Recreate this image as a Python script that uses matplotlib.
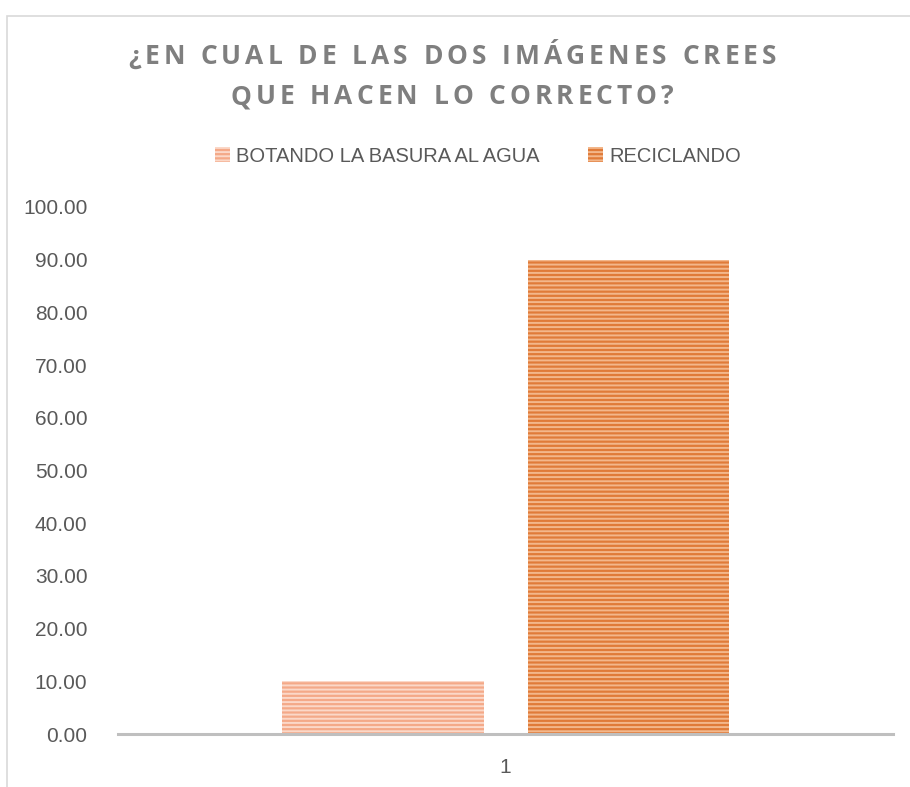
import matplotlib
matplotlib.use("Agg")
import matplotlib.pyplot as plt
from matplotlib.patches import Rectangle

# data
categories = ["1"]
series_names = ["BOTANDO LA BASURA AL AGUA", "RECICLANDO"]
series_values = [[10.0], [90.0]]
y_ticks = [0, 10, 20, 30, 40, 50, 60, 70, 80, 90, 100]
title_lines = ["¿EN CUAL DE LAS DOS IMÁGENES CREES", "QUE HACEN LO CORRECTO?"]

face_colors = ["#F4A988", "#E07B39"]
stripe_colors = ["#FBD8C8", "#F3B78B"]

plt.rcParams["font.family"] = ["Liberation Sans", "DejaVu Sans"]
plt.rcParams["hatch.linewidth"] = 1.4

fig = plt.figure(figsize=(9.1, 7.87), dpi=100)
ax = fig.add_axes([118 / 910, 1 - 734 / 787, 775 / 910, 527 / 787])

bar_w = 0.26
offsets = [-0.158, 0.159]
handles = []
for name, vals, off, fc, sc in zip(series_names, series_values, offsets,
                                   face_colors, stripe_colors):
    xs = [i + off for i in range(len(categories))]
    b = ax.bar(xs, vals, width=bar_w, color=fc, edgecolor=sc, hatch="----",
               linewidth=0, label=name, zorder=2)
    handles.append(b)

ax.set_xlim(-0.5, 0.5)
ax.set_ylim(0, 100)
ax.set_yticks(y_ticks)
ax.set_yticklabels([f"{v:.2f}" for v in y_ticks])
ax.set_xticks(range(len(categories)))
ax.set_xticklabels(categories)
ax.tick_params(axis="both", length=0, labelsize=15, labelcolor="#595959")
ax.tick_params(axis="y", pad=22)
ax.tick_params(axis="x", pad=17)
for s in ["left", "right", "top"]:
    ax.spines[s].set_visible(False)
ax.spines["bottom"].set_color("#BFBFBF")
ax.spines["bottom"].set_linewidth(2.2)
ax.spines["bottom"].set_zorder(3)


def spaced_text(line, xc, yc, tracking, **kw):
    # Excel title uses wide character spacing; place glyphs one by one
    r = fig.canvas.get_renderer()
    widths = []
    for ch in line:
        t = fig.text(0, 0, ch if ch != " " else "n", **kw)
        widths.append(t.get_window_extent(r).width * (0.45 if ch == " " else 1))
        t.remove()
    total = sum(widths) + tracking * (len(line) - 1)
    x = xc - total / 2
    for ch, w in zip(line, widths):
        if ch != " ":
            fig.text(x / 910, yc, ch, ha="left", va="center", **kw)
        x += w + tracking


title_kw = dict(fontsize=19, fontweight="bold", color="#7F7F7F",
                family=["Open Sans", "DejaVu Sans"])
spaced_text(title_lines[0], 452, 1 - 57 / 787, 4.0, **title_kw)
spaced_text(title_lines[1], 452, 1 - 97 / 787, 4.0, **title_kw)

leg = fig.legend(handles=handles, labels=series_names, loc="center",
                 bbox_to_anchor=(478 / 910, 1 - 156 / 787), ncol=2,
                 frameon=False, fontsize=14.5, labelcolor="#595959",
                 handlelength=0.75, handleheight=0.75, handletextpad=0.3,
                 columnspacing=2.4)

# chart area border
fig.patches.append(Rectangle((6.5 / 910, -0.1), 1.2, 1.1 - 15.5 / 787,
                             transform=fig.transFigure, fill=False,
                             edgecolor="#D9D9D9", linewidth=1.2))

fig.savefig("out.png", dpi=100)
